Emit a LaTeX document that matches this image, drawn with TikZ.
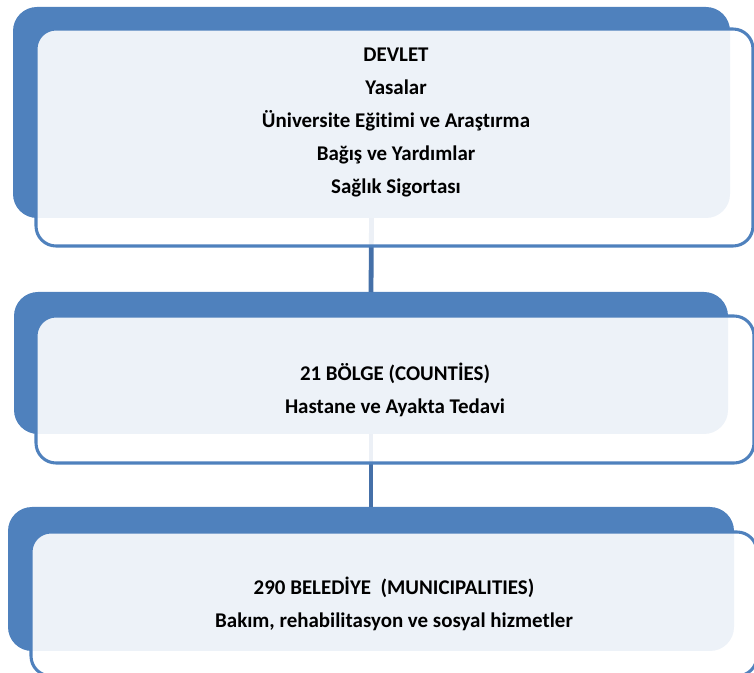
\documentclass[tikz,border=0pt]{standalone}
\usepackage{fontspec}
\setmainfont{Carlito}[Ligatures=NoCommon]
\definecolor{ofblue}{HTML}{4F81BD}
\definecolor{linkblue}{HTML}{4570A8}
\newcommand{\px}{0.75pt}
\begin{document}
\begin{tikzpicture}[x=\px, y=-\px, line join=round, line cap=round,
    back/.style 2 args={rectangle, inner sep=0pt, outer sep=0pt, rounded corners=18pt,
        fill=ofblue, minimum width=#1*\px, minimum height=#2*\px},
    front/.style 2 args={rectangle, inner sep=0pt, outer sep=0pt, rounded corners=15pt,
        draw=ofblue, line width=2.3pt, fill=white, fill opacity=0.9,
        minimum width=#1*\px, minimum height=#2*\px},
    link/.style={draw=linkblue, line width=3.6pt, line cap=butt},
    txt/.style={align=center, font=\bfseries\fontsize{15.7}{24.75}\selectfont}]
    \useasboundingbox (0,0) rectangle (754,673);
    % blue boxes behind
    \node[back={717}{211}] (b1) at (371.5,112.5) {};
    \node[back={714}{142}] (b2) at (371,363) {};
    \node[back={726}{144}] (b3) at (371,579) {};
    \draw[link] (b1.south) -- (b2.north);
    \draw[link] (b2.south) -- (b3.north);
    % light boxes in front
    \node[front={717}{217}] (f1) at (394.5,137.5) {};
    \node[front={718}{147}] (f2) at (395,389.5) {};
    \node[front={726}{144}] (f3) at (394,604) {};
    \node[txt] (t1) at (396,122) {DEVLET\\Yasalar\\Üniversite Eğitimi ve Araştırma\\Bağış ve Yardımlar\\Sağlık Sigortası};
    \node[txt] (t2) at (f2) {21 BÖLGE (COUNTİES)\\Hastane ve Ayakta Tedavi};
    \node[txt] (t3) at (f3) {290 BELEDİYE~~(MUNICIPALITIES)\\Bakım, rehabilitasyon ve sosyal hizmetler};
\end{tikzpicture}
\end{document}
